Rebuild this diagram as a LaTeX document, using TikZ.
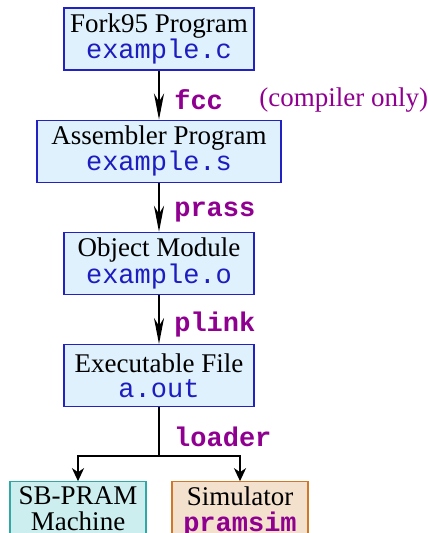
\documentclass[tikz,border=0pt]{standalone}
\usepackage{fontspec}
\setmainfont{Liberation Serif}
\setmonofont{Liberation Mono}
\usetikzlibrary{positioning,arrows.meta}
\definecolor{boxfill}{HTML}{DFF1FD}
\definecolor{boxline}{HTML}{2222C4}
\definecolor{codeblue}{HTML}{1C1CC0}
\definecolor{toolpurple}{HTML}{900090}
\definecolor{hwfill}{HTML}{CCEEEE}
\definecolor{hwline}{HTML}{30A8A8}
\definecolor{simfill}{HTML}{F3E1CE}
\definecolor{simline}{HTML}{D07828}
\newcommand{\fname}[1]{{\ttfamily\color{codeblue}#1}}
\newcommand{\tool}[1]{{\ttfamily\bfseries\color{toolpurple}#1}}

\begin{document}
\begin{tikzpicture}[node distance=49pt,
    font=\fontsize{27}{25}\selectfont,
    file/.style={draw=boxline,fill=boxfill,line width=1.2pt,align=center,
                 minimum width=190pt,minimum height=62pt,inner sep=2pt,
                 execute at begin node=\rule{0pt}{24pt}},
    target/.style={file,minimum width=136pt,minimum height=64pt,
                 font=\fontsize{27}{26}\selectfont,
                 execute at begin node={},
                 execute at end node=\rule[-10pt]{0pt}{10pt}},
    flow/.style={line width=2.6pt,-{Stealth[length=26pt,width=10pt,inset=8pt]}},
    branch/.style={line width=2.4pt,-{Stealth[length=13pt,width=12pt,inset=4pt]}},
    lbl/.style={anchor=west,inner sep=0pt,xshift=14pt}]
    \useasboundingbox (0,0) rectangle (428pt,-533pt);
    \node[file] (prog) at (159pt,-39pt) {Fork95 Program\\\fname{example.c}};
    \node[file,minimum width=244pt] (asm) [below=of prog] {Assembler Program\\\fname{example.s}};
    \node[file] (obj) [below=of asm] {Object Module\\\fname{example.o}};
    \node[file] (exe) [below=of obj] {Executable File\\\fname{a.out}};
    \node[target,draw=hwline,fill=hwfill] (hw)
        [below=74pt of exe,xshift=-81pt] {SB-PRAM\\Machine};
    \node[target,draw=simline,fill=simfill] (sim)
        [below=74pt of exe,xshift=81pt] {Simulator\\\tool{pramsim}};

    \draw[flow] (prog) -- node[lbl,pos=0.6] (fcc) {\tool{fcc}} (asm);
    \node[anchor=west,inner sep=0pt,text=toolpurple] at ([xshift=35pt]fcc.east) {(compiler only)};
    \draw[flow] (asm) -- node[lbl,pos=0.6] {\tool{prass}} (obj);
    \draw[flow] (obj) -- node[lbl,pos=0.6] {\tool{plink}} (exe);
    \draw[line width=2.4pt] (exe.south) -- node[lbl,pos=0.6] {\tool{loader}} ++(0,-49pt) coordinate (split);
    \draw[branch] (split) -| (hw.north);
    \draw[branch] (split) -| (sim.north);
\end{tikzpicture}
\end{document}
